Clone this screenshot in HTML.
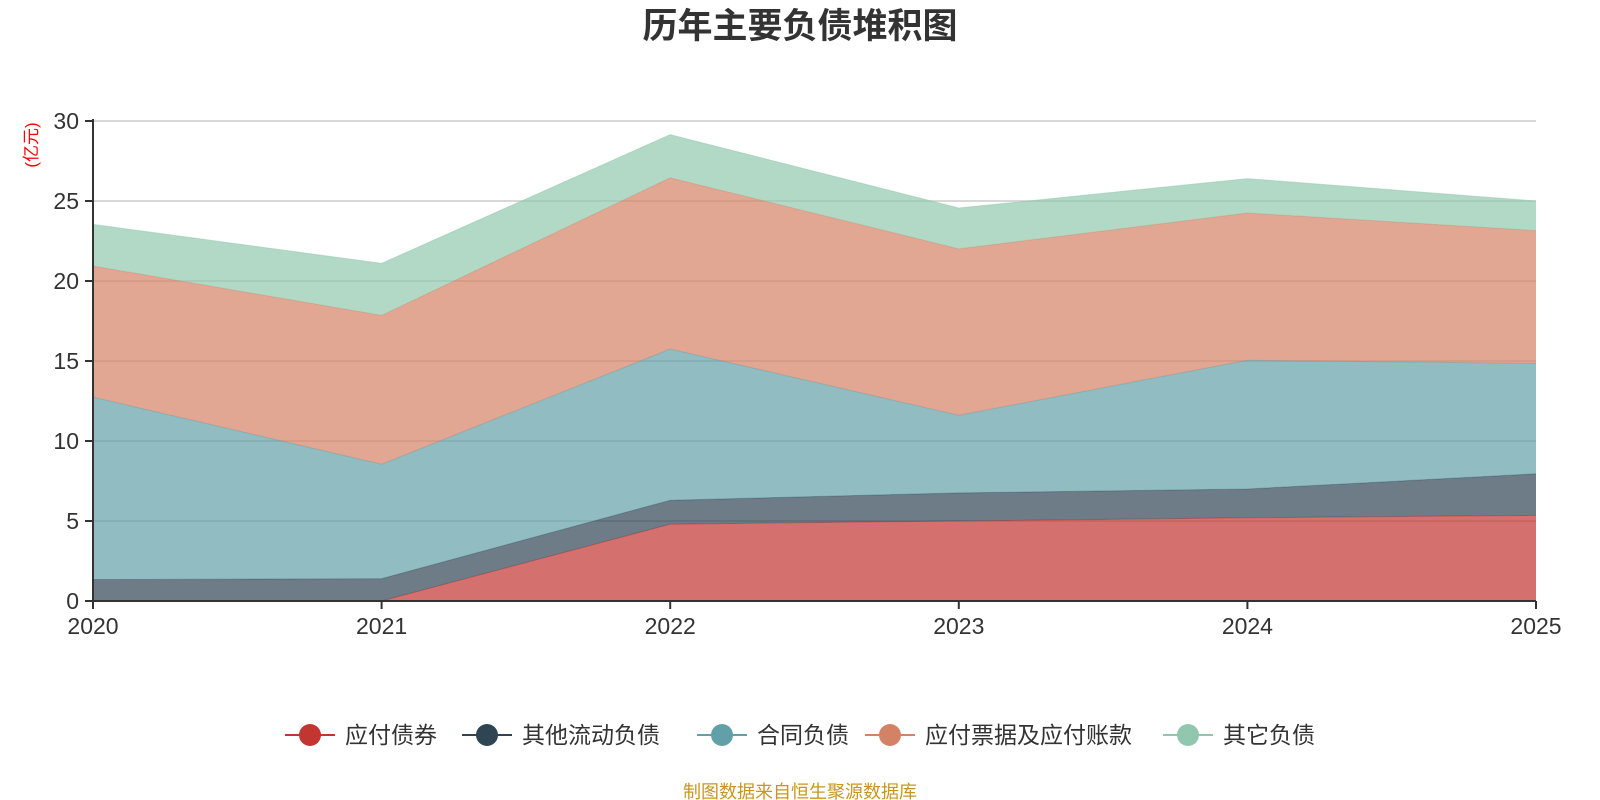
<!DOCTYPE html>
<html><head><meta charset="utf-8"><style>
body{margin:0;background:#fff}
svg{display:block;font-family:"Liberation Sans","Noto Sans CJK SC",sans-serif}
</style></head><body>
<svg id="chart" width="1600" height="800" viewBox="0 0 1600 800">
<text x="800" y="38" text-anchor="middle" font-size="35" font-weight="bold" fill="#333">历年主要负债堆积图</text>
<text transform="translate(37,145) rotate(-90)" text-anchor="middle" font-size="17" fill="#f00">(亿元)</text>
<g id="grid"></g><g id="areas"></g><g id="axes"></g><g id="legend"></g>
<text x="800" y="798" text-anchor="middle" font-size="18" fill="#c8961e">制图数据来自恒生聚源数据库</text>
</svg>
<script>
const years=['2020','2021','2022','2023','2024','2025'];
const seriesNames=['应付债券','其他流动负债','合同负债','应付票据及应付账款','其它负债'];
const bonds=[0,0,4.8,5.0,5.2,5.35];
const otherCurrent=[1.34,1.4,1.5,1.76,1.8,2.6];
const contract=[11.4,7.15,9.45,4.85,8.05,6.9];
const payables=[8.2,9.3,10.7,10.4,9.2,8.3];
const otherLiab=[2.6,3.25,2.7,2.55,2.15,1.85];
const yTicks=[0,5,10,15,20,25,30];
const colors=['#c23531','#2f4554','#61a0a8','#d48265','#91c7ae'];
const NS='http://www.w3.org/2000/svg';
const X0=93,X1=1536,Y0=601,Y1=121;
const xs=i=>X0+(X1-X0)*i/(years.length-1);
const ys=v=>Y0-(Y0-Y1)*v/30;
function mk(t,a,p){const e=document.createElementNS(NS,t);for(const k in a)e.setAttribute(k,a[k]);p.appendChild(e);return e;}
const grid=document.getElementById('grid'),axes=document.getElementById('axes'),areas=document.getElementById('areas'),legend=document.getElementById('legend');
yTicks.forEach(t=>{
 if(t>0){const l=mk('line',{x1:X0,x2:X1,y1:ys(t),y2:ys(t),stroke:'#ccc','stroke-width':1.5},grid);
 
 }
 const tk=mk('line',{x1:X0-8,x2:X0,y1:ys(t),y2:ys(t),stroke:'#333','stroke-width':2},axes);
 
 
 const tx=mk('text',{x:X0-14,y:ys(t)+8,'text-anchor':'end','font-size':23,fill:'#333'},axes);tx.textContent=t;
 
 
});
const all=[bonds,otherCurrent,contract,payables,otherLiab];
let base=years.map(()=>0);
all.forEach((s,k)=>{
 const top=base.map((b,i)=>b+s[i]);
 let d='M'+top.map((v,i)=>xs(i)+','+ys(v)).join('L');
 for(let i=years.length-1;i>=0;i--)d+='L'+xs(i)+','+ys(base[i]);
 const p=mk('path',{d:d+'Z',fill:colors[k],'fill-opacity':0.7},areas);
 
 
 const ln=mk('polyline',{points:top.map((v,i)=>xs(i)+','+ys(v)).join(' '),fill:'none',stroke:colors[k],'stroke-opacity':0.5,'stroke-width':1},areas);
 
 
 base=top;
});
mk('line',{x1:X0,x2:X0,y1:Y1-2,y2:Y0,stroke:'#333','stroke-width':2},axes);
mk('line',{x1:X0,x2:X1,y1:Y0,y2:Y0,stroke:'#333','stroke-width':2},axes);
years.forEach((y,i)=>{
 const tk=mk('line',{x1:xs(i),x2:xs(i),y1:Y0,y2:Y0+8,stroke:'#333','stroke-width':2},axes);
 
 
 const tx=mk('text',{x:xs(i),y:Y0+33,'text-anchor':'middle','font-size':23,fill:'#333'},axes);tx.textContent=y;
 
 
});
const lx=[310,487,722,890,1188];
seriesNames.forEach((n,k)=>{
 const g=mk('g',{},legend);
 
 
 mk('line',{x1:lx[k]-25,x2:lx[k]+25,y1:735,y2:735,stroke:colors[k],'stroke-width':2},g);
 mk('circle',{cx:lx[k],cy:735,r:11,fill:colors[k]},g);
 const t=mk('text',{x:lx[k]+35,y:743,'font-size':23,fill:'#333'},g);t.textContent=n;
});
</script>
</body></html>
